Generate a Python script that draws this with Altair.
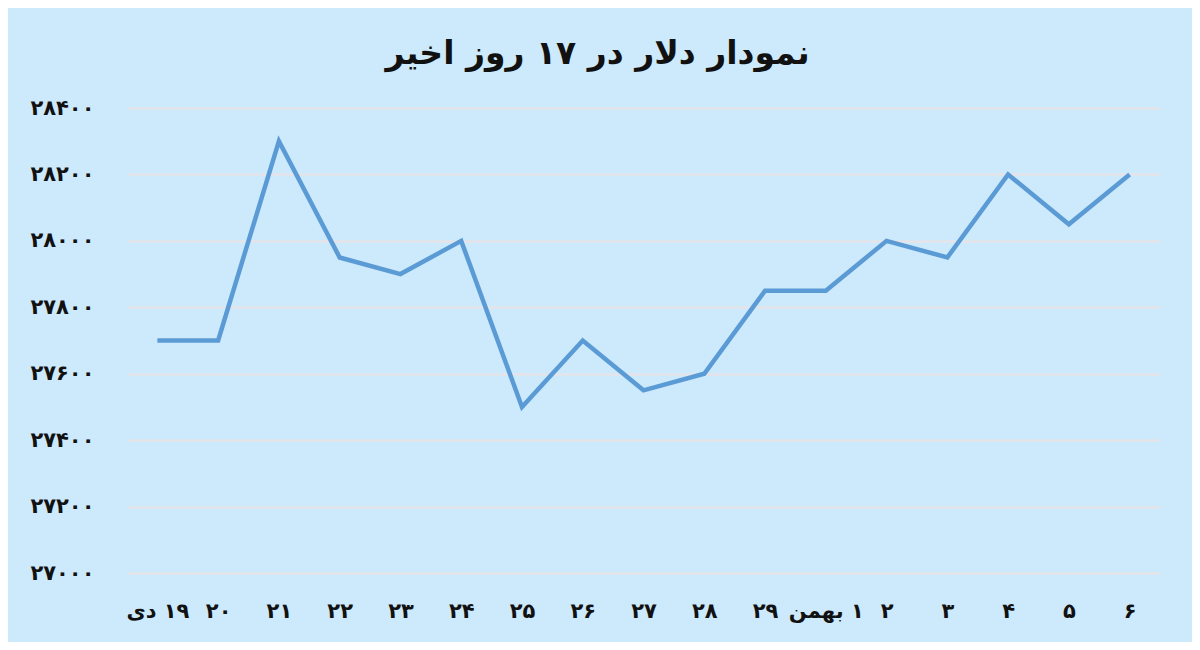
import altair as alt
import pandas as pd

RLM = "\u200f"

# Data
days = [RLM + "۱۹ دی", "۲۰", "۲۱", "۲۲", "۲۳", "۲۴", "۲۵", "۲۶", "۲۷", "۲۸", "۲۹",
        RLM + "۱ بهمن", "۲", "۳", "۴", "۵", "۶"]
prices = [27700, 27700, 28300, 27950, 27900, 28000, 27500, 27700, 27550, 27600, 27850,
          27850, 28000, 27950, 28200, 28050, 28200]

y_ticks = [27000, 27200, 27400, 27600, 27800, 28000, 28200, 28400]
y_tick_labels = ["۲۷۰۰۰", "۲۷۲۰۰", "۲۷۴۰۰", "۲۷۶۰۰", "۲۷۸۰۰", "۲۸۰۰۰", "۲۸۲۰۰", "۲۸۴۰۰"]

title_text = RLM + "نمودار دلار در ۱۷ روز اخیر"

df = pd.DataFrame({"day": days, "price": prices, "order": list(range(len(days)))})

label_expr = ""
for v, lab in zip(y_ticks, y_tick_labels):
    label_expr += f"datum.value == {v} ? '{lab}' : "
label_expr += "''"

FONT = "DejaVu Sans"

chart = alt.Chart(df).mark_line(color="#5b9bd5", strokeWidth=4.5).encode(
    x=alt.X("day:N", sort=days, title=None,
            scale=alt.Scale(paddingInner=0, paddingOuter=0.5),
            axis=alt.Axis(labelAngle=0, labelPadding=27, labelFontSize=21,
                          labelFontWeight="bold", labelColor="#111111",
                          labelFont=FONT, domain=False, ticks=False, grid=False)),
    y=alt.Y("price:Q", title=None,
            scale=alt.Scale(domain=[27000, 28400], nice=False, zero=False),
            axis=alt.Axis(values=y_ticks, labelExpr=label_expr, labelPadding=33,
                          labelFontSize=21, labelFontWeight="bold", labelColor="#111111",
                          labelFont=FONT, domain=False, ticks=False,
                          grid=True, gridColor="#e9e3e6", gridWidth=2)),
    order="order:Q",
).properties(
    width=1033,
    height=465,
    title=alt.TitleParams(title_text, fontSize=33, fontWeight="bold", font=FONT,
                          color="#111111", anchor="middle", dx=-46, offset=26),
    background="#cde9fc",
    padding={"left": 119, "top": 100, "right": 32, "bottom": 69},
    autosize=alt.AutoSizeParams(type="none"),
).configure_view(stroke=None)

chart.save("out.html", embed_options={"renderer": "svg", "actions": False})
